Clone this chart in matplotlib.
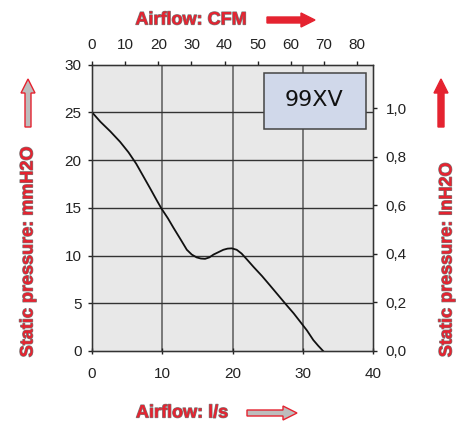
import matplotlib
matplotlib.use("Agg")
import matplotlib.pyplot as plt
import matplotlib.patheffects as pe
from matplotlib.patches import FancyArrow, Rectangle
from matplotlib.transforms import IdentityTransform
import numpy as np

plt.rcParams["font.family"] = ["Liberation Sans", "DejaVu Sans"]

# fan curve: airflow l/s vs static pressure mmH2O
flow_ls = [0, 1.2, 2.6, 4.0, 5.2, 6.3, 7.3, 8.3, 9.2, 9.9, 10.8, 11.6, 12.6, 13.5,
           14.2, 14.9, 15.5, 16.1, 16.7, 17.3, 18.0, 18.7, 19.3, 19.9, 20.6, 21.3,
           22.1, 23.0, 24.2, 25.3, 26.5, 27.7, 28.7, 29.6, 30.6, 31.5, 32.2, 32.9]
press_mm = [25.0, 24.0, 23.0, 21.9, 20.8, 19.6, 18.3, 17.0, 15.8, 14.9, 13.9, 12.9,
            11.7, 10.6, 10.1, 9.8, 9.68, 9.65, 9.8, 10.1, 10.35, 10.6, 10.72, 10.75,
            10.6, 10.2, 9.55, 8.8, 7.85, 6.9, 5.85, 4.8, 3.95, 3.1, 2.15, 1.15, 0.55, 0.0]

ls_ticks = [0, 10, 20, 30, 40]
mm_ticks = [0, 5, 10, 15, 20, 25, 30]
cfm_ticks = [0, 10, 20, 30, 40, 50, 60, 70, 80]
inh2o_ticks = [0.0, 0.2, 0.4, 0.6, 0.8, 1.0]
inh2o_labels = ["0,0", "0,2", "0,4", "0,6", "0,8", "1,0"]
model = "99XV"

LS_TO_CFM = 2.119
MM_PER_IN = 25.4

W, H = 470, 425
fig = plt.figure(figsize=(W / 100, H / 100), dpi=100)
ax = fig.add_axes([92 / W, 1 - 351 / H, 281 / W, 286.5 / H])
ax.set_facecolor("#e8e8e8")

ax.set_xlim(0, 40)
ax.set_ylim(0, 30)
ax.set_xticks(ls_ticks)
ax.set_yticks(mm_ticks)

for v in [10, 20, 30]:
    ax.axvline(v, color="#5a5a5a", lw=1.1, zorder=1)
for v in [5, 10, 15, 20, 25]:
    ax.axhline(v, color="#333333", lw=1.0, zorder=1)

ax.plot(flow_ls, press_mm, color="#111111", lw=1.3, zorder=3)

for s in ax.spines.values():
    s.set_color("#333333")
    s.set_linewidth(1.0)

ax.tick_params(axis="x", direction="inout", length=5, pad=9, labelsize=11,
               colors="#222222", width=1)
ax.tick_params(axis="y", direction="out", length=3, pad=4.5, labelsize=11,
               colors="#222222", width=1)

top = ax.twiny()
top.set_xlim(0, 40 * LS_TO_CFM)
top.set_xticks(cfm_ticks)
top.tick_params(axis="x", direction="out", length=3, pad=6, labelsize=11,
                colors="#222222", width=1)

right = ax.twinx()
right.set_ylim(0, 30 / MM_PER_IN)
right.set_yticks(inh2o_ticks)
right.set_yticklabels(inh2o_labels)
right.tick_params(axis="y", direction="out", length=3, pad=6, labelsize=11,
                  colors="#222222", width=1)
for a in (top, right):
    for s in a.spines.values():
        s.set_color("#333333")

# model box (pixel coordinates)
fig.add_artist(Rectangle((263.5, H - 128.5), 102, 56, transform=IdentityTransform(),
                         facecolor="#d0d8ea", edgecolor="#444444", lw=1.1, zorder=4))
fig.text(314 / W, 1 - 100 / H, model, ha="center", va="center", fontsize=16,
         family="DejaVu Sans", color="#111111", zorder=5)

# axis titles
red = "#e52330"
fx = [pe.Stroke(linewidth=0.9, foreground="#7a7a7a"), pe.Normal()]
kw = dict(color=red, fontweight="bold", family="Liberation Sans", fontsize=13,
          path_effects=fx)
fig.text(191 / W, 1 - 20 / H, "Airflow: CFM", ha="center", va="center", **kw)
fig.text(182 / W, 1 - 413 / H, "Airflow: l/s", ha="center", va="center", **kw)
fig.text(28 / W, 1 - 252 / H, "Static pressure: mmH2O", ha="center", va="center",
         rotation=90, **kw)
fig.text(447 / W, 1 - 260 / H, "Static pressure: InH2O", ha="center", va="center",
         rotation=90, **kw)

# arrows in pixel coordinates
def arrow(x, y, dx, dy, face, edge):
    fig.add_artist(FancyArrow(x, H - y, dx, -dy, width=6, head_width=14,
                              head_length=14, length_includes_head=True,
                              transform=IdentityTransform(), facecolor=face,
                              edgecolor=edge, lw=1.0))

arrow(267, 20, 48, 0, red, red)
arrow(247, 413, 50, 0, "#bdbdbd", red)
arrow(28, 127, 0, -48, "#bdbdbd", red)
arrow(441, 127, 0, -48, red, red)

fig.savefig("out.png", dpi=100)
